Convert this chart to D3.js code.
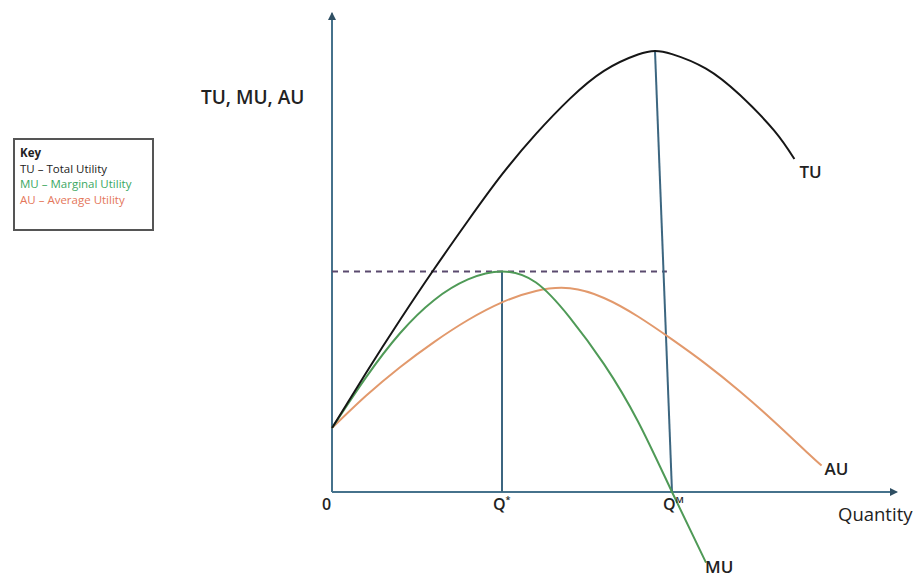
<!DOCTYPE html>
<html>
<head>
<meta charset="utf-8">
<script src="https://cdn.jsdelivr.net/npm/d3@7"></script>
<style>
  html, body { margin: 0; padding: 0; background: #ffffff; }
  svg { display: block; }
  text { font-family: "Open Sans", "Noto Sans", sans-serif; }
</style>
</head>
<body>
<svg id="chart" width="920" height="577"></svg>
<script>
// Quantity positions and utility readings for each curve
const tuQty = [0, 1, 2, 3, 4, 5, 6, 7, 8, 9, 9.5, 10, 11, 12, 13, 13.6];
const tuVal = [14.5, 27, 39, 50.5, 61.5, 72, 81.2, 89.2, 95.5, 99.2, 100, 99.3, 96, 90, 82, 75.5];

const muQty = [0, 1, 2, 3, 4, 5, 6, 7, 8, 9, 10, 11];
const muVal = [14.5, 26, 36, 43.5, 48.2, 50, 47.5, 39.5, 29, 16, 0, -16];

const auQty = [0, 1, 2, 3, 4, 5, 6, 7, 8, 9, 10, 11, 12, 13, 14, 14.4];
const auVal = [14.5, 21.8, 28.3, 34, 39, 43, 45.6, 46.2, 44, 39.8, 34.6, 29, 22.8, 16, 8.8, 6];

// Key quantities on the horizontal axis
const qStar = 5;      // MU at its maximum
const qMax = 10;      // MU = 0, TU at its maximum
const muPeak = 50;
const tuPeakQty = 9.5;
const tuPeak = 100;

const tickLabels = ["0", "Q", "Q"];
const tickMarks = ["", "*", "M"];
const legendLines = ["Key", "TU – Total Utility", "MU – Marginal Utility", "AU – Average Utility"];

const svg = d3.select("#chart");

const x = d3.scaleLinear().domain([0, 16.5]).range([332, 893]);
const y = d3.scaleLinear().domain([0, 100]).range([492, 51]);

const axisColor = "#46728c";
const colors = { tu: "#161616", mu: "#4f9a57", au: "#e2996c" };

// arrow markers
const defs = svg.append("defs");
defs.append("marker")
  .attr("id", "arrow")
  .attr("viewBox", "0 0 10 10")
  .attr("refX", 8).attr("refY", 5)
  .attr("markerWidth", 4).attr("markerHeight", 4)
  .attr("orient", "auto")
  .append("path")
  .attr("d", "M0,0 L10,5 L0,10 z")
  .attr("fill", "#2f4f63");

// axes
svg.append("line")
  .attr("x1", x(0)).attr("y1", y(0))
  .attr("x2", x(0)).attr("y2", y(108.5))
  .attr("stroke", axisColor).attr("stroke-width", 2)
  .attr("marker-end", "url(#arrow)");
svg.append("line")
  .attr("x1", x(0)).attr("y1", y(0))
  .attr("x2", x(16.6)).attr("y2", y(0))
  .attr("stroke", axisColor).attr("stroke-width", 2)
  .attr("marker-end", "url(#arrow)");

// guide lines
svg.append("line")
  .attr("x1", x(0)).attr("y1", y(muPeak))
  .attr("x2", x(9.85)).attr("y2", y(muPeak))
  .attr("stroke", "#5a4a6e").attr("stroke-width", 2)
  .attr("stroke-dasharray", "6,5");
svg.append("line")
  .attr("x1", x(qStar)).attr("y1", y(muPeak))
  .attr("x2", x(qStar)).attr("y2", y(0))
  .attr("stroke", "#3c6680").attr("stroke-width", 2);
svg.append("line")
  .attr("x1", x(tuPeakQty)).attr("y1", y(tuPeak))
  .attr("x2", x(qMax)).attr("y2", y(0))
  .attr("stroke", "#3c6680").attr("stroke-width", 2);

// curves
const line = d3.line()
  .x(d => x(d[0]))
  .y(d => y(d[1]))
  .curve(d3.curveNatural);

const series = [
  { key: "au", q: auQty, v: auVal },
  { key: "mu", q: muQty, v: muVal },
  { key: "tu", q: tuQty, v: tuVal }
];
series.forEach(s => {
  svg.append("path")
    .datum(s.q.map((q, i) => [q, s.v[i]]))
    .attr("d", line)
    .attr("fill", "none")
    .attr("stroke", colors[s.key])
    .attr("stroke-width", 2);
});

// curve labels at the curve ends
const lastPt = s => [s.q[s.q.length - 1], s.v[s.v.length - 1]];
const tuEnd = lastPt(series[2]), auEnd = lastPt(series[0]), muEnd = lastPt(series[1]);
const labelStyle = sel => sel.attr("fill", "#222").attr("font-size", 17).attr("font-weight", 600);

svg.append("text").text("TU").attr("x", x(tuEnd[0]) + 5).attr("y", y(tuEnd[1]) + 19).call(labelStyle);
svg.append("text").text("AU").attr("x", x(auEnd[0]) + 3).attr("y", y(auEnd[1]) + 9).call(labelStyle);
svg.append("text").text("MU").attr("x", x(muEnd[0]) - 1).attr("y", 573).call(labelStyle);

// axis title texts
svg.append("text").text("TU, MU, AU")
  .attr("x", 201).attr("y", 104).call(labelStyle).attr("font-size", 19);
svg.append("text").text("Quantity")
  .attr("x", 838).attr("y", 521).call(labelStyle).attr("font-weight", 400).attr("font-size", 18.5);

// tick labels on the quantity axis
const tickQty = [0, qStar, qMax];
tickQty.forEach((q, i) => {
  const t = svg.append("text")
    .attr("x", i === 0 ? x(q) - 10 : x(q) - 9)
    .attr("y", 510)
    .call(labelStyle).attr("font-size", 16);
  t.append("tspan").text(tickLabels[i]);
  if (tickMarks[i]) {
    t.append("tspan").text(tickMarks[i]).attr("font-size", 9).attr("dy", -7);
  }
});

// legend key box
const lg = svg.append("g").attr("transform", "translate(14,139)");
lg.append("rect")
  .attr("width", 139).attr("height", 91)
  .attr("fill", "#fff").attr("stroke", "#555").attr("stroke-width", 2);
const legendColors = ["#222", "#222", "#3aa862", "#e4765a"];
legendLines.forEach((t, i) => {
  lg.append("text")
    .text(t)
    .attr("x", 6).attr("y", 18 + i * 15.5)
    .attr("font-size", 11.5)
    .attr("font-weight", i === 0 ? 700 : 400)
    .attr("fill", legendColors[i]);
});
</script>
</body>
</html>
